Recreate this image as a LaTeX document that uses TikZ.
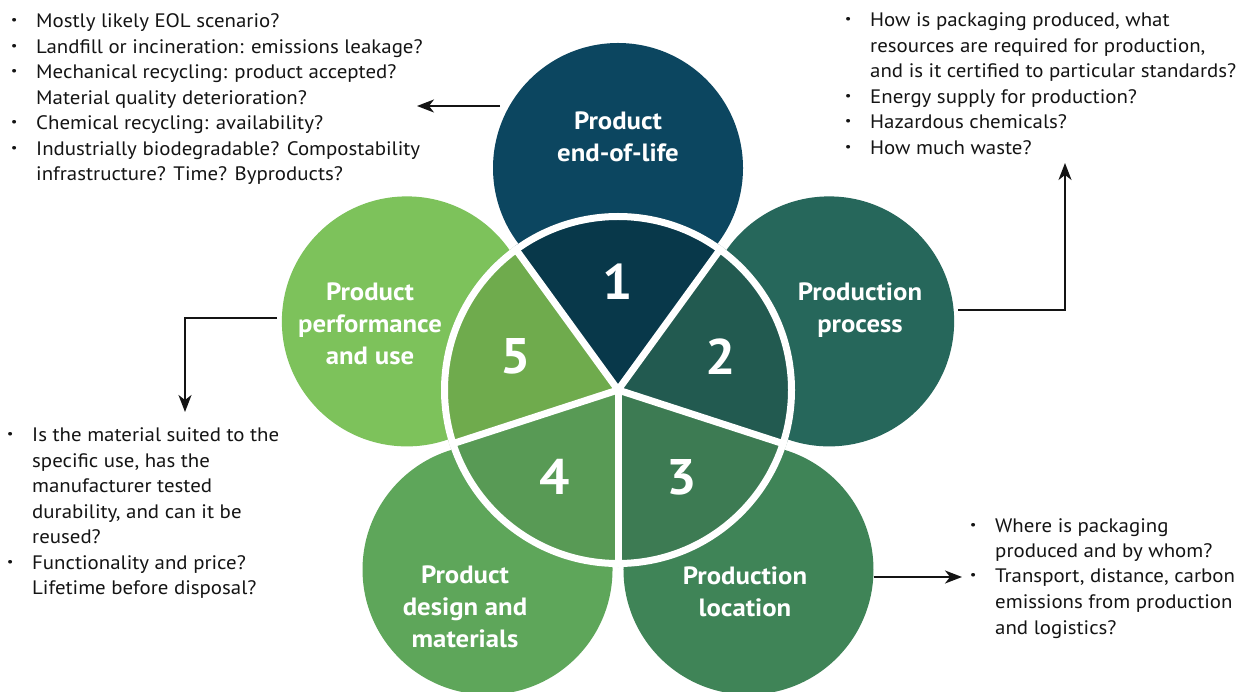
\documentclass[tikz,border=0pt]{standalone}
\usepackage{fontspec}
\setmainfont{PT Sans}[FakeStretch=1.07]
\usetikzlibrary{arrows.meta,calc}
\definecolor{cA}{HTML}{0C4660}
\definecolor{sA}{HTML}{08384A}
\definecolor{cB}{HTML}{26675B}
\definecolor{sB}{HTML}{225A50}
\definecolor{cC}{HTML}{3F8457}
\definecolor{sC}{HTML}{3D7B53}
\definecolor{cD}{HTML}{5EA65A}
\definecolor{sD}{HTML}{589A55}
\definecolor{cE}{HTML}{7DC25B}
\definecolor{sE}{HTML}{6FAB4D}
\definecolor{ink}{HTML}{141414}
\newcommand\bl{\makebox[22pt][l]{\makebox[0pt]{\fontsize{23}{23}\selectfont\bfseries ·}}}
\newcommand\nb{\hspace*{22pt}}
\tikzset{
  bigc/.style={circle, minimum size=250pt, inner sep=0pt, draw=none},
  lab/.style={text=white, font=\bfseries\fontsize{25}{32}\selectfont, align=center, inner sep=0pt},
  num/.style={text=white, font=\bfseries\fontsize{50}{50}\selectfont, inner sep=0pt},
  body/.style={anchor=base west, inner sep=0pt, text=ink, font=\fontsize{19.5}{25.5}\selectfont},
  arr/.style={draw=ink, line width=1.8pt, -{Stealth[length=17pt,width=13pt,inset=5pt]}},
  wline/.style={draw=white, line width=7pt}
}
\begin{document}
\begin{tikzpicture}[x=1pt,y=1pt]
\useasboundingbox[fill=white] (0,0) rectangle (1247,691);
\coordinate (O) at (618,301);
% big circles
\node[bigc, fill=cA] (c1) at ($(O)+(90:222)$) {};
\node[bigc, fill=cB] (c2) at ($(O)+(18:222)$) {};
\node[bigc, fill=cC] (c3) at ($(O)+(-54:222)$) {};
\node[bigc, fill=cD] (c4) at ($(O)+(-126:222)$) {};
\node[bigc, fill=cE] (c5) at ($(O)+(162:222)$) {};
% pie sectors
\fill[sA] (O) -- ++(54:177) arc[start angle=54, end angle=126, radius=177] -- cycle;
\fill[sB] (O) -- ++(-18:177) arc[start angle=-18, end angle=54, radius=177] -- cycle;
\fill[sC] (O) -- ++(-90:177) arc[start angle=-90, end angle=-18, radius=177] -- cycle;
\fill[sD] (O) -- ++(-162:177) arc[start angle=-162, end angle=-90, radius=177] -- cycle;
\fill[sE] (O) -- ++(126:177) arc[start angle=126, end angle=198, radius=177] -- cycle;
\draw[wline] (O) circle[radius=173.5];
\foreach \a in {54,126,198,270,342} \draw[wline] (O) -- ++(\a:177);
% numbers
\node[num] (n1) at ($(O)+(90:108)$) {1};
\node[num] (n2) at ($(O)+(18:108)$) {2};
\node[num] (n3) at ($(O)+(-54:108)$) {3};
\node[num] (n4) at ($(O)+(-126:108)$) {4};
\node[num] (n5) at ($(O)+(162:108)$) {5};
% circle labels
\node[lab] (l1) at (618,554) {Product\\end-of-life};
\node[lab] (l2) at (860,381) {Production\\process};
\node[lab] (l3) at (745,99.5) {Production\\location};
\node[lab] (l4) at (465,84) {Product\\design and\\materials};
\node[lab] (l5) at (370,367) {Product\\performance\\and use};
% text blocks
\node[body] (b1) at (14,663) {\begin{tabular}[t]{@{}l@{}}
\bl Mostly likely EOL scenario?\\
\bl Landfill or incineration: emissions leakage?\\
\bl Mechanical recycling: product accepted?\\
\nb Material quality deterioration?\\
\bl Chemical recycling: availability?\\
\bl Industrially biodegradable? Compostability\\
\nb infrastructure? Time? Byproducts?
\end{tabular}};
\node[body] (b2) at (848,664) {\begin{tabular}[t]{@{}l@{}}
\bl How is packaging produced, what\\
\nb resources are required for production,\\
\nb and is it certified to particular standards?\\
\bl Energy supply for production?\\
\bl Hazardous chemicals?\\
\bl How much waste?
\end{tabular}};
\node[body] (b3) at (10,249) {\begin{tabular}[t]{@{}l@{}}
\bl Is the material suited to the\\
\nb specific use, has the\\
\nb manufacturer tested\\
\nb durability, and can it be\\
\nb reused?\\
\bl Functionality and price?\\
\nb Lifetime before disposal?
\end{tabular}};
\node[body] (b4) at (973,159) {\begin{tabular}[t]{@{}l@{}}
\bl Where is packaging\\
\nb produced and by whom?\\
\bl Transport, distance, carbon\\
\nb emissions from production\\
\nb and logistics?
\end{tabular}};
% arrows
\coordinate (a1s) at (500,585);
\coordinate (a1e) at (417,585);
\coordinate (a2s) at (958,381);
\coordinate (a2e) at (1065,528);
\coordinate (a3s) at (277,373);
\coordinate (a3e) at (185,279);
\coordinate (a4s) at (874,114);
\coordinate (a4e) at (962,114);
\draw[arr] (a1s) -- (a1e);
\draw[arr] (a2s) -| (a2e);
\draw[arr] (a3s) -| (a3e);
\draw[arr] (a4s) -- (a4e);
\end{tikzpicture}
\end{document}
